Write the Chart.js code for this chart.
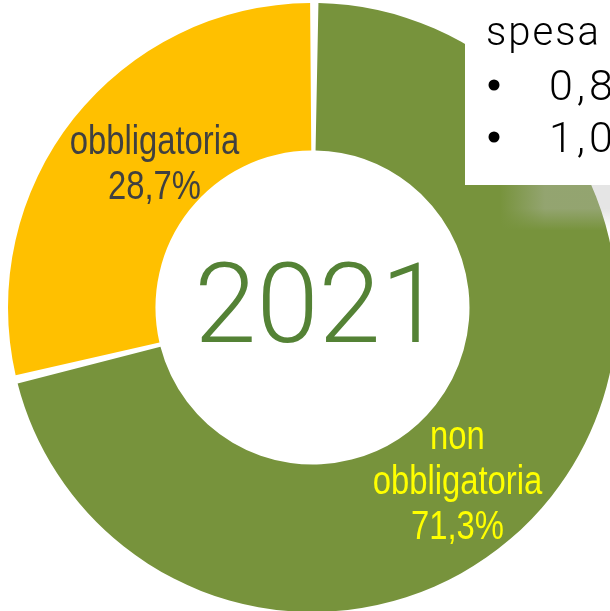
<!DOCTYPE html>
<html>
<head>
<meta charset="utf-8">
<script src="https://cdn.jsdelivr.net/npm/chart.js@4/dist/chart.umd.min.js"></script>
<style>
html,body{margin:0;padding:0;background:#fff;overflow:hidden;width:610px;height:611px;}
#wrap{position:absolute;left:0;top:0;width:625px;height:613px;}
</style>
</head>
<body>
<div id="wrap"><canvas id="c" width="625" height="613"></canvas></div>
<script>
// ---- data ----
const categories = ['non obbligatoria', 'obbligatoria'];
const values = [71.3, 28.7];
const sliceColors = ['#77933C', '#FFC000'];
const labelColors = ['#FFFF00', '#404040'];
const centerTitle = '2021';
const legendTitle = 'spesa';
const legendItems = ['0,8', '1,0'];

function pct(v){ return v.toFixed(1).replace('.', ',') + '%'; }

// label offsets from arc centroid (style only)
const labelOffsets = [[-36, 29], [23, -2]];

const overlayPlugin = {
  id: 'overlay',
  afterDraw(chart){
    const ctx = chart.ctx;
    const meta = chart.getDatasetMeta(0);
    ctx.save();
    // slice labels (condensed)
    meta.data.forEach((arc, i) => {
      const c = arc.getCenterPoint();
      const lines = categories[i].split(' ').concat([pct(values[i])]);
      const cx = c.x + labelOffsets[i][0];
      const cy = c.y + labelOffsets[i][1];
      const lh = 45;
      ctx.font = '40px "Liberation Sans", Arial, sans-serif';
      ctx.fillStyle = labelColors[i];
      ctx.textAlign = 'center';
      ctx.textBaseline = 'alphabetic';
      const first = cy - (lines.length - 1) * lh / 2 + 14;
      lines.forEach((t, k) => {
        ctx.save();
        ctx.translate(cx, first + k * lh);
        ctx.scale(0.82, 1);
        ctx.fillText(t, 0, 0);
        ctx.restore();
      });
    });
    // center title
    const a0 = meta.data[0];
    ctx.font = '300 112px Roboto, "Liberation Sans", sans-serif';
    ctx.fillStyle = '#548235';
    ctx.textAlign = 'center';
    ctx.textBaseline = 'alphabetic';
    ctx.fillText(centerTitle, a0.x + 6, a0.y + 34);

    // soft shadow under legend box
    for (let y = 185; y < 230; y++) {
      const f = y < 208 ? 1 : Math.max(0, (230 - y) / 22);
      const g = ctx.createLinearGradient(500, 0, 545, 0);
      g.addColorStop(0, 'rgba(190,190,190,0)');
      g.addColorStop(1, 'rgba(190,190,190,' + (0.4 * f).toFixed(3) + ')');
      ctx.fillStyle = g;
      ctx.fillRect(500, y, 125, 1);
    }

    // legend box
    ctx.fillStyle = '#ffffff';
    ctx.fillRect(465, 0, 160, 185);
    ctx.fillStyle = '#000000';
    ctx.textAlign = 'left';
    ctx.font = '300 40px Roboto, "Liberation Sans", sans-serif';
    ctx.letterSpacing = '2px';
    ctx.fillText(legendTitle, 486, 45);
    legendItems.forEach((t, k) => {
      const by = 100 + k * 52;
      ctx.beginPath();
      ctx.arc(494, by - 15, 5.5, 0, Math.PI * 2);
      ctx.fill();
      ctx.font = '300 43px Roboto, "Liberation Sans", sans-serif';
      ctx.letterSpacing = '4px';
      ctx.fillText(t, 549, by);
    });
    ctx.letterSpacing = '0px';
    ctx.restore();
  }
};

new Chart(document.getElementById('c'), {
  type: 'doughnut',
  data: {
    labels: categories,
    datasets: [{
      data: values,
      backgroundColor: sliceColors,
      borderWidth: 0,
      spacing: 4
    }]
  },
  options: {
    responsive: false,
    animation: false,
    devicePixelRatio: 1,
    cutout: 155,
    layout: { padding: { top: 3, bottom: 1, left: 0, right: 0 } },
    plugins: { legend: { display: false }, tooltip: { enabled: false } }
  },
  plugins: [overlayPlugin]
});
</script>
</body>
</html>
